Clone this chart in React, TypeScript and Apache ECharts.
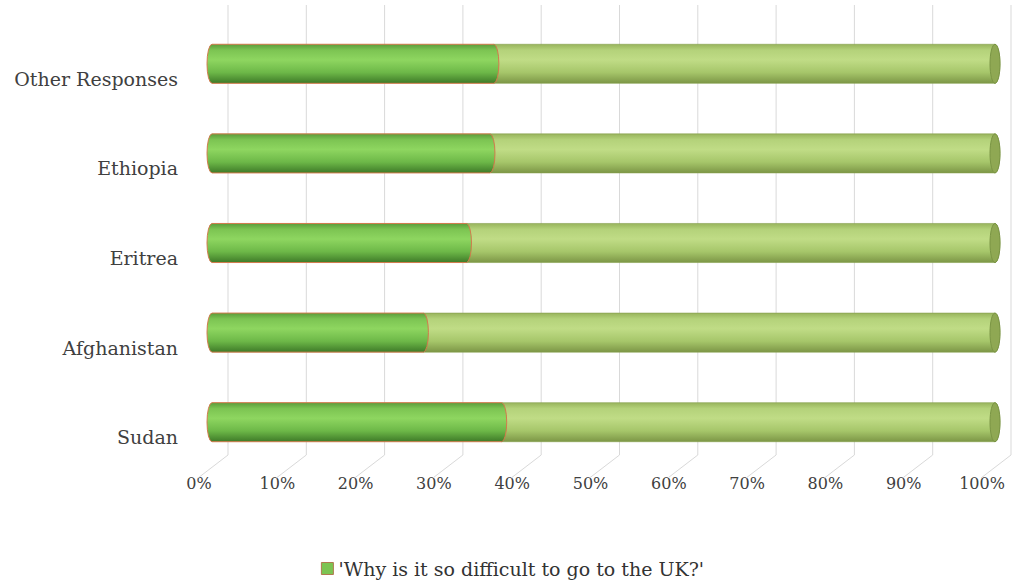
import React, { useEffect, useRef } from 'react';
import * as echarts from 'echarts';

const categories = ['Sudan', 'Afghanistan', 'Eritrea', 'Ethiopia', 'Other Responses'];
const seriesName = "'Why is it so difficult to go to the UK?'";
const difficultValues = [37, 27, 32.5, 35.5, 36];
const otherValues = [63, 73, 67.5, 64.5, 64];
const tickValues = [0, 10, 20, 30, 40, 50, 60, 70, 80, 90, 100];

const FONT = "'DejaVu Serif', serif";

function cylPath(x0: number, x1: number, cy: number, h: number, rx: number, leftRound: boolean, rightRound: boolean) {
  const top = cy - h;
  const bot = cy + h;
  let d = `M${x0},${top} L${x1},${top} `;
  d += rightRound ? `A${rx},${h} 0 0 1 ${x1},${bot} ` : `L${x1},${bot} `;
  d += `L${x0},${bot} `;
  d += leftRound ? `A${rx},${h} 0 0 1 ${x0},${top} ` : `L${x0},${top} `;
  d += 'Z';
  return d;
}

const darkGrad = () =>
  new echarts.graphic.LinearGradient(0, 0, 0, 1, [
    { offset: 0, color: '#5b9c3b' },
    { offset: 0.15, color: '#7cc452' },
    { offset: 0.4, color: '#8ed660' },
    { offset: 0.72, color: '#6db848' },
    { offset: 1, color: '#3e7a28' },
  ]);
const lightGrad = () =>
  new echarts.graphic.LinearGradient(0, 0, 0, 1, [
    { offset: 0, color: '#98b45c' },
    { offset: 0.15, color: '#b4d27a' },
    { offset: 0.4, color: '#c0dc86' },
    { offset: 0.72, color: '#a6c66a' },
    { offset: 1, color: '#7c9646' },
  ]);

const RATIO = 0.218;
const RX = 5;

export default function App() {
  const ref = useRef<HTMLDivElement>(null);
  useEffect(() => {
    if (!ref.current) return;
    const chart = echarts.init(ref.current, null, { renderer: 'svg' });
    const darkData = difficultValues.map((v, i) => [0, v, i]);
    const lightData = otherValues.map((v, i) => [difficultValues[i], difficultValues[i] + v, i]);
    chart.setOption({
      animation: false,
      backgroundColor: '#ffffff',
      grid: { left: 212, right: 30, top: 19, bottom: 121 },
      legend: {
        left: 'center',
        top: 554,
        itemWidth: 12,
        itemHeight: 12,
        itemGap: 8,
        textStyle: { fontFamily: FONT, fontSize: 19, color: '#333333' },
        data: [
          {
            name: seriesName,
            icon: 'rect',
            itemStyle: { color: '#7cc452', borderColor: '#b07a50', borderWidth: 1 },
          },
        ],
      },
      xAxis: {
        type: 'value',
        min: 0,
        max: 100,
        interval: 10,
        axisLine: { show: false },
        axisTick: { show: false },
        splitLine: { show: false },
        axisLabel: {
          formatter: '{value}%',
          fontFamily: FONT,
          fontSize: 16,
          color: '#404040',
          margin: 8,
          padding: [0, 26, 0, 0],
        },
      },
      yAxis: {
        type: 'category',
        data: categories,
        axisLine: { show: false },
        axisTick: { show: false },
        splitLine: { show: false },
        axisLabel: {
          fontFamily: FONT,
          fontSize: 19,
          color: '#404040',
          margin: 34,
          verticalAlign: 'top',
          lineHeight: 30,
        },
      },
      series: [
        {
          type: 'custom',
          name: 'grid',
          silent: true,
          z: 1,
          data: tickValues.map((v) => [v]),
          renderItem: (params: any, api: any) => {
            const cs = params.coordSys;
            const x = api.coord([api.value(0), 0])[0];
            const xb = x + 16;
            const top = cs.y - 14;
            const bot = cs.y + cs.height - 12;
            const style = { stroke: '#d9d9d9', lineWidth: 1 };
            return {
              type: 'group',
              children: [
                { type: 'line', shape: { x1: xb, y1: top, x2: xb, y2: bot }, style },
                { type: 'line', shape: { x1: xb, y1: bot, x2: xb - 30, y2: bot + 23 }, style },
              ],
            };
          },
        },
        {
          type: 'custom',
          name: 'other',
          silent: true,
          z: 2,
          data: lightData,
          renderItem: (params: any, api: any) => {
            const p0 = api.coord([api.value(0), api.value(2)]);
            const p1 = api.coord([api.value(1), api.value(2)]);
            const h = api.size([0, 1])[1] * RATIO;
            return {
              type: 'group',
              children: [
                {
                  type: 'path',
                  shape: { pathData: cylPath(p0[0], p1[0], p0[1], h, RX, false, true) },
                  style: { fill: lightGrad(), stroke: '#86a04e', lineWidth: 0.6 },
                },
                {
                  type: 'ellipse',
                  shape: { cx: p1[0], cy: p1[1], rx: RX, ry: h },
                  style: { fill: '#8fa853', stroke: '#7a9444', lineWidth: 1 },
                },
              ],
            };
          },
        },
        {
          type: 'custom',
          name: seriesName,
          silent: true,
          z: 3,
          data: darkData,
          renderItem: (params: any, api: any) => {
            const p0 = api.coord([api.value(0), api.value(2)]);
            const p1 = api.coord([api.value(1), api.value(2)]);
            const h = api.size([0, 1])[1] * RATIO;
            return {
              type: 'path',
              shape: { pathData: cylPath(p0[0], p1[0], p0[1], h, RX, true, true) },
              style: { fill: darkGrad(), stroke: '#d27a4c', lineWidth: 1 },
            };
          },
        },
      ],
    });
    return () => chart.dispose();
  }, []);
  return <div ref={ref} style={{ width: 1025, height: 588, position: 'absolute', left: 0, top: 0 }} />;
}
